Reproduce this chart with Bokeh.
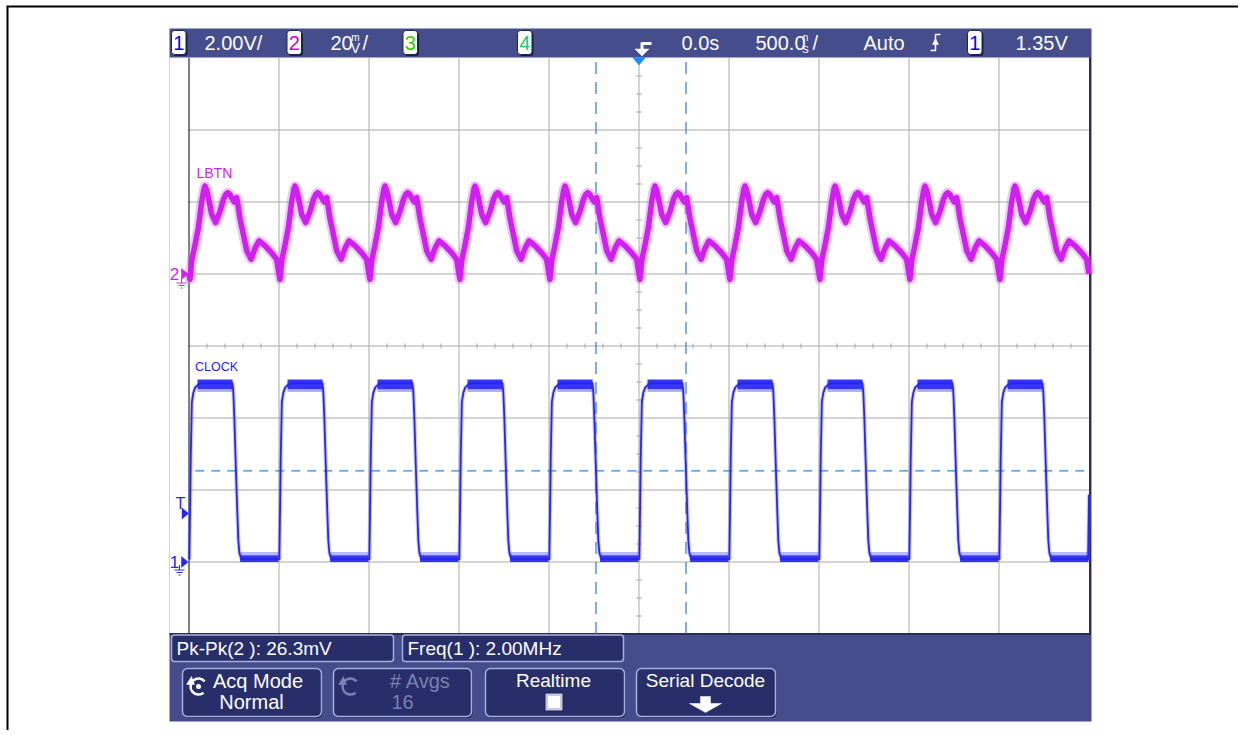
import numpy as np
from bokeh.plotting import figure
from bokeh.models import Range1d
from bokeh.core.properties import value
from bokeh.embed import file_html
from bokeh.resources import INLINE

# ------------------------------------------------------------------ data
# scope settings shown on screen
ch1_volts_per_div = 2.00
ch2_mv_per_div = 20.0
time_per_div_ns = 500.0
trigger_level_v = 1.35
ch1_ground_div = -3          # graticule division of the "1" ground marker
ch2_ground_div = 1           # graticule division of the "2" ground marker
n_div_x = 10
n_div_y = 8

# CLOCK (channel 1): one cycle, ns after the rising edge -> V
clock_cycle_ns = [0, 4, 8, 14, 22, 33, 55, 67, 239, 244, 250, 256, 261, 267, 272, 278, 289, 495]
clock_cycle_v = [0.08, 1.5, 3.0, 4.45, 4.70, 4.85, 4.95, 4.97, 4.97, 4.75, 4.0, 3.0, 2.2, 1.3, 0.6, 0.25, 0.08, 0.08]
clock_edge_ns = [-2998, -2498, -1998, -1498, -998, -498, 2, 502, 1002, 1502, 2002, 2495]
clock_high_band_v = [4.72, 4.80, 5.07]   # fringe / dense noise band on the high level
clock_low_band_v = [0.0, 0.19, 0.28]     # dense / fringe noise band on the low level
clock_high_span_ns = [45, 240]
clock_low_span_ns = [282, 495]

# LBTN (channel 2): one cycle, ns after the dip -> mV
lbtn_cycle_ns = [0, 11, 29, 47, 66, 78, 84, 92, 103, 121, 143, 168, 186, 200, 210, 220, 229, 247, 260,
                 279, 297, 316, 340, 362, 384, 418, 454, 482]
lbtn_cycle_mv = [-1.5, 4.0, 8.2, 12.9, 20.3, 23.6, 24.4, 23.4, 21.2, 16.6, 14.3, 17.5, 20.7, 22.2, 22.6, 22.2,
                 21.4, 20.0, 21.2, 15.2, 11.0, 6.4, 4.1, 7.2, 9.2, 7.8, 5.9, 4.1]
lbtn_cycle_start_ns = [-2995, -2495, -1995, -1495, -995, -495, 5, 505, 1005, 1505, 2005, 2505]

cursor_x_ns = [-239, 261]
cursor_y_v = 2.53

# texts
hdr_ch1_scale = "2.00V/"
hdr_ch2_scale = "20"
hdr_delay = "0.0s"
hdr_timebase = "500.0"
hdr_mode = "Auto"
hdr_trig_level = "1.35V"
ch_labels = ["CLOCK", "LBTN"]
meas_labels = ["Pk-Pk(2 ): 26.3mV", "Freq(1 ): 2.00MHz"]
softkey_top = ["Acq Mode", "# Avgs", "Realtime", "Serial Decode"]
softkey_bottom = ["Normal", "16"]

# ------------------------------------------------------------------ style / layout
FONT = "Liberation Sans"
PANEL = "#454d8c"
DARK = "#282e6a"
EDGE = "#a9afdc"
BLUE = "#2626f0"
MAG = "#d11ff2"
CURSOR = "#1e8cf0"
GRIDC = "#a9a9a9"

W, H = 1238, 730
X0, Y0 = 0, 0
GX_L = 188.5
PX_X = 90.0
GY_C = 345.5
PX_Y = 72.0
GX_C = GX_L + PX_X * n_div_x / 2
T_LO = -time_per_div_ns * n_div_x / 2
T_HI = time_per_div_ns * n_div_x / 2
D_TOP = n_div_y / 2


def px_to_t(px):
    return (px - GX_C) / PX_X * time_per_div_ns


def py_to_div(py):
    return (GY_C - py) / PX_Y


p = figure(width=W, height=H, x_range=Range1d(X0, X0 + W), y_range=Range1d(Y0 + H, Y0),
           output_backend="svg", toolbar_location=None, min_border=0,
           x_axis_type=None, y_axis_type=None)
p.outline_line_color = None
p.background_fill_color = "white"
p.border_fill_color = "white"

d_lo, d_hi = py_to_div(Y0 + H), py_to_div(Y0)
p.extra_x_ranges = {"t": Range1d(px_to_t(X0), px_to_t(X0 + W))}
p.extra_y_ranges = {
    "div": Range1d(d_lo, d_hi),
    "ch1": Range1d((d_lo - ch1_ground_div) * ch1_volts_per_div, (d_hi - ch1_ground_div) * ch1_volts_per_div),
    "ch2": Range1d((d_lo - ch2_ground_div) * ch2_mv_per_div, (d_hi - ch2_ground_div) * ch2_mv_per_div),
}
TD = dict(x_range_name="t", y_range_name="div")
T1 = dict(x_range_name="t", y_range_name="ch1")
T2 = dict(x_range_name="t", y_range_name="ch2")


def txt(x, y, s, size, color="white", align="left", style="normal", font=FONT):
    p.text(x=[x], y=[y], text=[s], text_color=color, text_font_size=f"{size}px",
           text_align=align, text_baseline="middle", text_font=value(font), text_font_style=style)


def tri(xs, ys, color):
    p.patches(xs=[xs], ys=[ys], fill_color=color, line_color=color, line_width=0.5)


# outer frame of the page
p.multi_line(xs=[[7, 7], [6, 1238]], ys=[[730, 6], [6, 6]], line_color="black", line_width=2)

# instrument panel
p.quad(left=169, right=1091, top=28, bottom=721, fill_color=PANEL, line_color=None)
p.quad(left=169, right=1089, top=57, bottom=633, fill_color="white", line_color=None)

# graticule
gx = [T_LO + time_per_div_ns * k for k in range(1, n_div_x)]
p.segment(x0=gx, y0=[-D_TOP] * len(gx), x1=gx, y1=[D_TOP] * len(gx), line_color=GRIDC, line_width=1, **TD)
gy = [k for k in range(-n_div_y // 2 + 1, n_div_y // 2)]
p.segment(x0=[T_LO] * len(gy), y0=gy, x1=[T_HI] * len(gy), y1=gy, line_color=GRIDC, line_width=1, **TD)
# minor ticks on the centre lines
tick_t = [T_LO + 100 * k for k in range(1, 50) if k % 5]
p.segment(x0=tick_t, y0=[-0.035] * len(tick_t), x1=tick_t, y1=[0.035] * len(tick_t), line_color=GRIDC, line_width=1, **TD)
tick_d = [-4 + 0.25 * k for k in range(1, 32) if k % 4]
p.segment(x0=[-16] * len(tick_d), y0=tick_d, x1=[16] * len(tick_d), y1=tick_d, line_color=GRIDC, line_width=1, **TD)
# graticule borders
p.segment(x0=[T_LO], y0=[-D_TOP], x1=[T_LO], y1=[D_TOP], line_color="black", line_width=1, **TD)
p.multi_line(xs=[[1089.5, 1089.5], [169, 1090.5]], ys=[[57, 634.5], [633.5, 633.5]], line_color="#2a2e55", line_width=2)

# cursors
p.segment(x0=cursor_x_ns, y0=[-D_TOP] * 2, x1=cursor_x_ns, y1=[D_TOP] * 2, line_color="#2a78dc",
          line_width=1.2, line_dash="12 8", **TD)
p.segment(x0=[T_LO + 35], y0=[cursor_y_v], x1=[T_HI], y1=[cursor_y_v], line_color=CURSOR,
          line_width=1.2, line_dash="9 7", **T1)


# ------------------------------------------------------------------ traces
def build_trace(cycle_t, cycle_v, starts):
    t = np.concatenate([np.asarray(cycle_t, float) + s for s in starts])
    v = np.concatenate([np.asarray(cycle_v, float) for _ in starts])
    order = np.argsort(t, kind="stable")
    t, v = t[order], v[order]
    keep = (t > T_LO) & (t < T_HI)
    tt = np.concatenate([[T_LO], t[keep], [T_HI]])
    vv = np.concatenate([[np.interp(T_LO, t, v)], v[keep], [np.interp(T_HI, t, v)]])
    return tt, vv


# LBTN
lt, lv = build_trace(lbtn_cycle_ns, lbtn_cycle_mv, lbtn_cycle_start_ns)
p.line(lt, lv, line_color="#dc6cf6", line_width=10, line_alpha=0.4, line_join="round", **T2)
p.line(lt, lv, line_color=MAG, line_width=5.5, line_join="round", **T2)

# CLOCK
ct, cv = build_trace(clock_cycle_ns[:-1], clock_cycle_v[:-1], clock_edge_ns)
edges = np.asarray(clock_edge_ns, float)
hl = np.clip(edges + clock_high_span_ns[0], T_LO, T_HI)
hr = np.clip(edges + clock_high_span_ns[1], T_LO, T_HI)
ll = np.clip(edges + clock_low_span_ns[0], T_LO, T_HI)
lr = np.clip(edges + clock_low_span_ns[1], T_LO, T_HI)
n = len(edges)
p.line(ct, cv, line_color="#6a6af4", line_width=4, line_alpha=0.35, **T1)
p.quad(left=hl, right=hr, bottom=[clock_high_band_v[0]] * n, top=[clock_high_band_v[1]] * n,
       fill_color="#5050f2", fill_alpha=0.45, line_color=None, **T1)
p.quad(left=hl, right=hr, bottom=[clock_high_band_v[1]] * n, top=[clock_high_band_v[2]] * n,
       fill_color=BLUE, fill_alpha=0.92, line_color=None, **T1)
p.quad(left=ll, right=lr, bottom=[clock_low_band_v[0]] * n, top=[clock_low_band_v[1]] * n,
       fill_color=BLUE, fill_alpha=0.92, line_color=None, **T1)
p.quad(left=ll, right=lr, bottom=[clock_low_band_v[1]] * n, top=[clock_low_band_v[2]] * n,
       fill_color="#5050f2", fill_alpha=0.4, line_color=None, **T1)
p.line(ct, cv, line_color=BLUE, line_width=1.8, **T1)

# channel labels
txt(196, 172.5, ch_labels[1], 14, color=MAG)
txt(194.5, 366, ch_labels[0], 12.5, color=BLUE)

# ground / trigger markers on the left
y2 = GY_C - ch2_ground_div * PX_Y
y1 = GY_C - ch1_ground_div * PX_Y
yT = y1 - trigger_level_v / ch1_volts_per_div * PX_Y
txt(174, y2, "2", 17, color=MAG, align="center")
tri([181, 181, 187.5], [y2 - 5.5, y2 + 5.5, y2], MAG)
p.multi_line(xs=[[181, 181], [176, 186], [178, 184], [180, 182]],
             ys=[[y2 + 4, y2 + 9], [y2 + 9, y2 + 9], [y2 + 11.5, y2 + 11.5], [y2 + 14, y2 + 14]],
             line_color=MAG, line_width=1)
txt(174, y1, "1", 17, color=BLUE, align="center")
tri([181, 181, 187.5], [y1 - 5.5, y1 + 5.5, y1], BLUE)
p.multi_line(xs=[[179, 179], [174, 184], [176, 182], [178, 180]],
             ys=[[y1 + 3, y1 + 8], [y1 + 8, y1 + 8], [y1 + 10.5, y1 + 10.5], [y1 + 13, y1 + 13]],
             line_color=BLUE, line_width=1)
txt(180, yT - 10, "T", 16, color=BLUE, align="center")
tri([181.5, 181.5, 188], [yT - 5.5, yT + 5.5, yT], BLUE)


# ------------------------------------------------------------------ header
def chan_box(x0, x1, digit, color):
    p.quad(left=x0 + 1.5, right=x1 + 1.5, top=31.5, bottom=55.5, fill_color="#1a1e40", line_color=None, border_radius=3)
    p.quad(left=x0, right=x1, top=30, bottom=54, fill_color="white", line_color="#20244a", line_width=1, border_radius=3)
    txt((x0 + x1) / 2, 42.5, digit, 20, color=color, align="center")


chan_box(171, 185.5, "1", "#0000ff")
txt(204, 42.5, hdr_ch1_scale, 20)
chan_box(286.5, 301, "2", "#d000e0")
txt(330, 42.5, hdr_ch2_scale, 20)
txt(355, 37, "m", 10, align="center")
txt(355, 47.5, "V", 14, align="center")
txt(362, 42.5, "/", 20)
chan_box(402.5, 417, "3", "#33cc00")
chan_box(517, 531.5, "4", "#00d67a")
# trigger position icon
p.multi_line(xs=[[651, 641]], ys=[[43, 43]], line_color="white", line_width=3)
p.multi_line(xs=[[641.5, 641.5]], ys=[[42, 49]], line_color="white", line_width=3)
tri([634.5, 648.5, 641.5], [48.5, 48.5, 55.5], "white")
tri([632, 645, 638.5], [57, 57, 64.5], "#1a8cff")
txt(681, 42.5, hdr_delay, 20)
txt(755, 42.5, hdr_timebase, 20)
txt(805, 37, "n", 10, align="center")
txt(805, 47.5, "s", 13, align="center")
txt(812, 42.5, "/", 20)
txt(863, 42.5, hdr_mode, 20)
# rising-edge trigger symbol
p.multi_line(xs=[[930, 935, 935, 940]], ys=[[50, 50, 34, 34]], line_color="white", line_width=1.5)
tri([932, 938, 935], [44, 44, 38], "white")
chan_box(967, 981.5, "1", "#0000ff")
txt(1015, 42.5, hdr_trig_level, 20)

# ------------------------------------------------------------------ bottom panel
for (l, r), s in zip([(171, 393), (402, 623)], meas_labels):
    p.quad(left=l, right=r, top=634.5, bottom=661, fill_color=DARK, line_color=EDGE, line_width=1.5, border_radius=3)
    txt(l + 5, 648, s, 19)

btns = [(182, 321), (333, 471), (485, 624), (636, 775)]
for (l, r) in btns:
    p.quad(left=l + 1, right=r + 1, top=669, bottom=717.5, fill_color="#1c2150", line_color=None, border_radius=5)
    p.quad(left=l, right=r, top=668, bottom=716, fill_color=DARK, line_color=EDGE, line_width=1.5, border_radius=5)

GRAY = "#7a82b2"
# Acq Mode
p.arc(x=[198], y=[686], radius=8, start_angle=0.7, end_angle=5.4, line_color="white", line_width=2.5)
tri([186, 194, 191], [684, 684, 676], "white")
p.scatter(x=[198], y=[686], size=5, marker="circle", fill_color="white", line_color=None)
txt(257.5, 680, softkey_top[0], 20, align="center")
txt(251, 701, softkey_bottom[0], 20, align="center")
# # Avgs
p.arc(x=[350], y=[686], radius=8, start_angle=0.7, end_angle=5.4, line_color=GRAY, line_width=2.5)
tri([338, 346, 343], [684, 684, 676], GRAY)
txt(420, 680, softkey_top[1], 20, color=GRAY, align="center")
txt(402, 701, softkey_bottom[1], 20, color=GRAY, align="center")
# Realtime
txt(553, 680, softkey_top[2], 19, align="center")
p.quad(left=544.5, right=562.5, top=692.5, bottom=710.5, fill_color="#c8cbe6", line_color="#20244a", line_width=1)
p.quad(left=547.5, right=559.5, top=695.5, bottom=707.5, fill_color="white", line_color=None)
# Serial Decode
txt(705, 680, softkey_top[3], 19, align="center")
p.patches(xs=[[700, 710, 710, 721, 705, 689, 700]], ys=[[696, 696, 703, 703, 712, 703, 703]],
          fill_color="white", line_color="white", line_width=0.5)

open("out.html", "w").write(file_html(p, INLINE))
